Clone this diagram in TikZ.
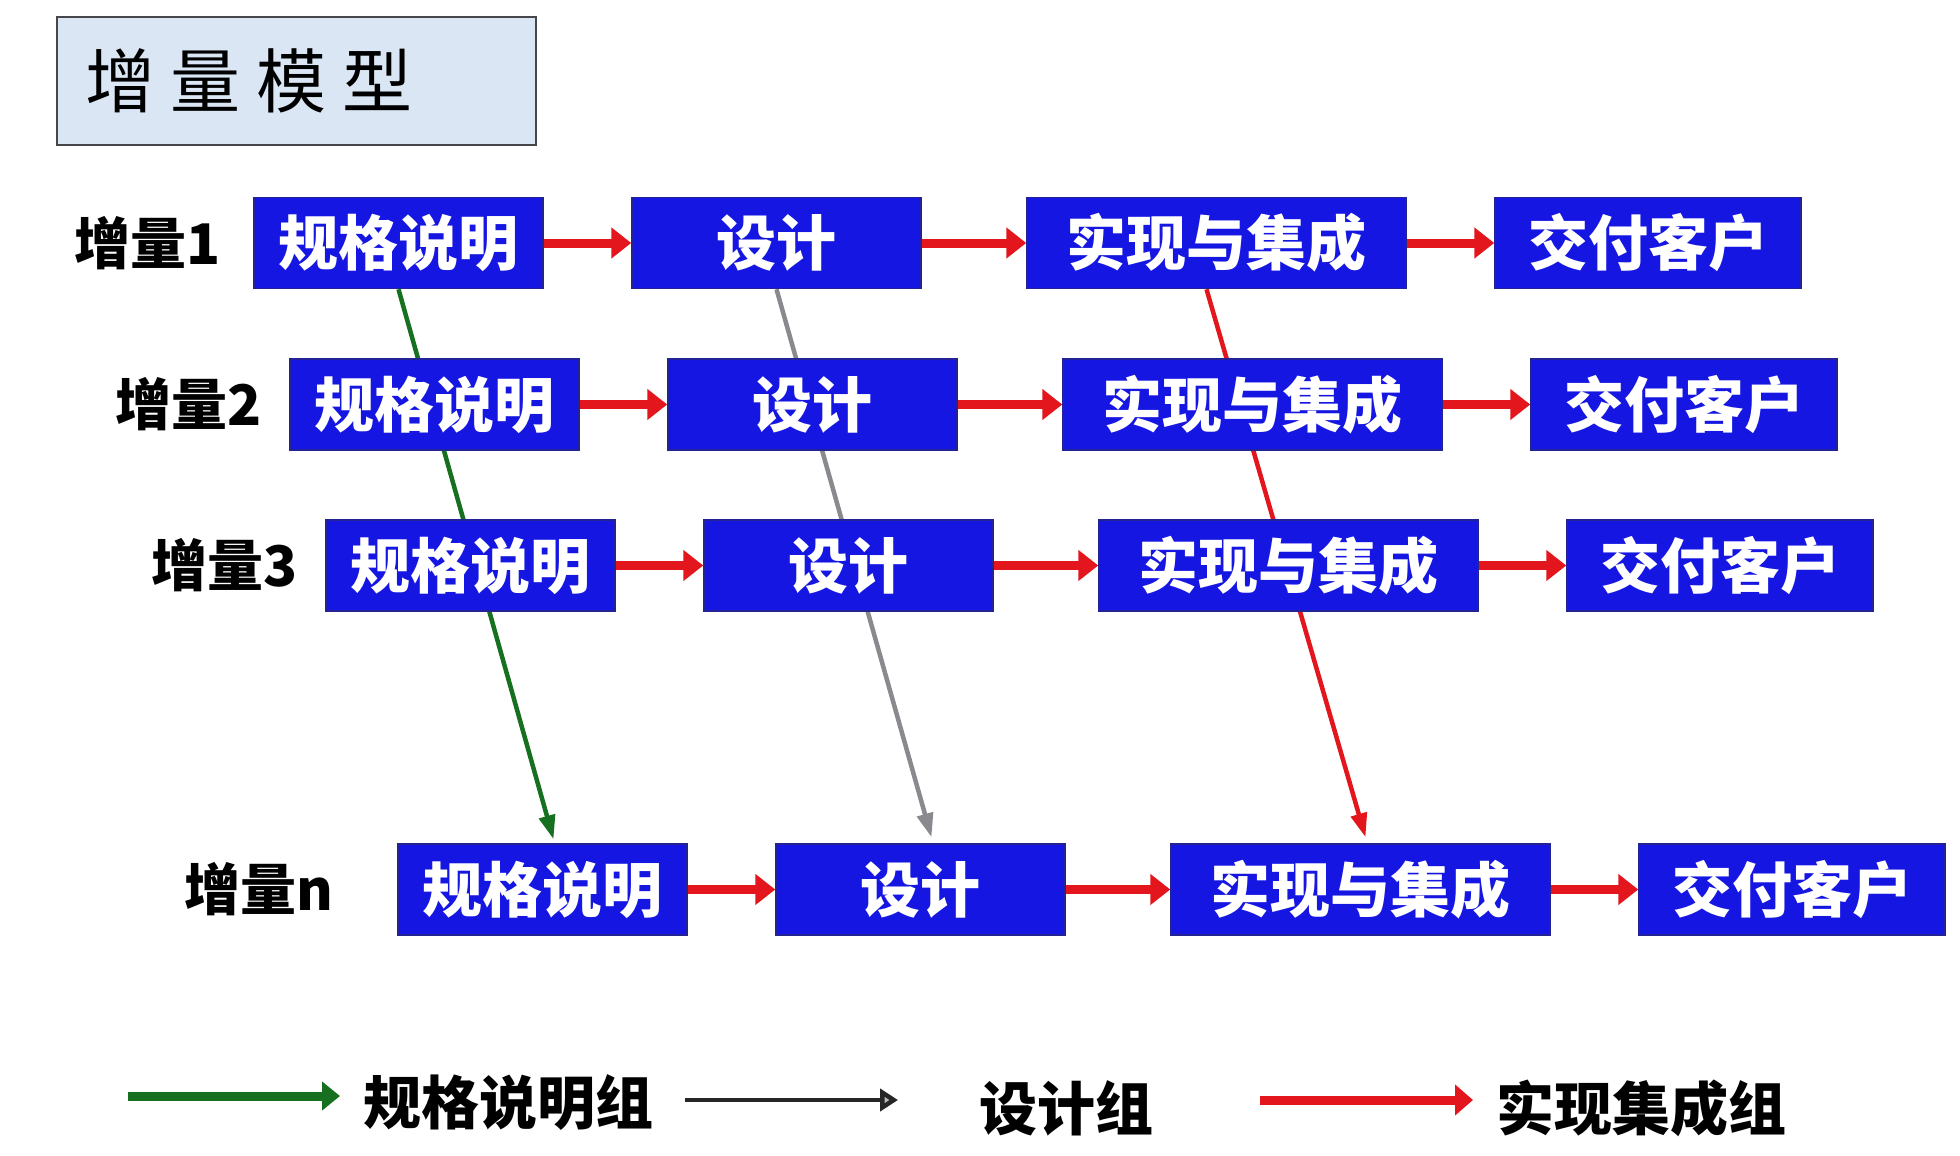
\documentclass[tikz,border=0pt]{standalone}
\usepackage{fontspec}
\newfontfamily\cjk{Noto Sans CJK SC}
\usetikzlibrary{arrows.meta,calc}
\pgfdeclarelayer{background}
\pgfsetlayers{background,main}
\definecolor{boxblue}{RGB}{22,22,226}
\definecolor{boxedge}{RGB}{35,35,150}
\definecolor{arrred}{RGB}{226,22,28}
\definecolor{arrgreen}{RGB}{22,112,32}
\definecolor{arrgray}{RGB}{138,138,142}
\definecolor{titlefill}{RGB}{218,230,244}
\definecolor{titleedge}{RGB}{70,70,75}
\tikzset{
  stagebox/.style={draw=boxedge, line width=1.5pt, fill=boxblue, text=white, inner sep=0pt,
    minimum height=91pt, font=\cjk\bfseries\fontsize{60}{60}\selectfont},
  wspec/.style={stagebox, minimum width=289pt},
  wdes/.style={stagebox, minimum width=289pt},
  wimp/.style={stagebox, minimum width=379pt},
  wdel/.style={stagebox, minimum width=306pt},
  rowlabel/.style={anchor=east, inner sep=0pt, font=\cjk\bfseries\fontsize{56}{56}\selectfont},
  flow/.style={arrred, line width=9pt, -{Triangle[length=20pt,width=30pt]}},
  diag/.style={line width=4.5pt, -{Triangle[length=24pt,width=16pt]}},
  legtext/.style={inner sep=0pt, font=\cjk\bfseries\fontsize{58}{58}\selectfont},
}
\begin{document}
\begin{tikzpicture}[x=1pt,y=-1pt]
\useasboundingbox (0,0) rectangle (1960,1156);

% title
\node[draw=titleedge, line width=2pt, fill=titlefill, minimum height=128pt,
      text width=423pt, inner xsep=28pt, inner ysep=0pt, align=left,
      font=\cjk\fontsize{70}{70}\selectfont] (title) at (296.5,81)
      {增\hspace{16pt}量\hspace{16pt}模\hspace{16pt}型};

% row 1
\node[wspec] (s1) at (398.5,243) {规格说明};
\node[wdes]  (d1) at (776.5,243) {设计};
\node[wimp]  (i1) at (1216.5,243) {实现与集成};
\node[wdel]  (c1) at (1648,243) {交付客户};
\node[rowlabel] (l1) at (221,243) {增量1};
% row 2
\node[wspec] (s2) at (434.5,404.5) {规格说明};
\node[wdes]  (d2) at (812.5,404.5) {设计};
\node[wimp]  (i2) at (1252.5,404.5) {实现与集成};
\node[wdel]  (c2) at (1684,404.5) {交付客户};
\node[rowlabel] (l2) at (262,404.5) {增量2};
% row 3
\node[wspec] (s3) at (470.5,565.5) {规格说明};
\node[wdes]  (d3) at (848.5,565.5) {设计};
\node[wimp]  (i3) at (1288.5,565.5) {实现与集成};
\node[wdel]  (c3) at (1720,565.5) {交付客户};
\node[rowlabel] (l3) at (297.5,565.5) {增量3};
% row n
\node[wspec] (sn) at (542.5,889.5) {规格说明};
\node[wdes]  (dn) at (920.5,889.5) {设计};
\node[wimp]  (in) at (1360.5,889.5) {实现与集成};
\node[wdel]  (cn) at (1792,889.5) {交付客户};
\node[rowlabel] (ln) at (334,889.5) {增量n};

% horizontal flows
\foreach \r in {1,2,3,n}{
  \draw[flow] (s\r.east) -- (d\r.west);
  \draw[flow] (d\r.east) -- (i\r.west);
  \draw[flow] (i\r.east) -- (c\r.west);
}

% diagonal team arrows (behind boxes)
\begin{pgfonlayer}{background}
\draw[diag, arrgreen] (s1.south) -- ([xshift=11pt,yshift=4pt]sn.north);
\draw[diag, arrgray]  (d1.south) -- ([xshift=11pt,yshift=6pt]dn.north);
\draw[diag, arrred]   ([xshift=-10pt]i1.south) -- ([xshift=5pt,yshift=6pt]in.north);
\end{pgfonlayer}

% legend
\coordinate (lg1a) at (128,1096);
\coordinate (lg1b) at (340,1096);
\node[legtext] (lt1) at (508,1103) {规格说明组};
\coordinate (lg2a) at (685,1100);
\coordinate (lg2b) at (898,1100);
\node[legtext] (lt2) at (1066,1108) {设计组};
\coordinate (lg3a) at (1260,1100);
\coordinate (lg3b) at (1473,1100);
\node[legtext] (lt3) at (1641,1108) {实现集成组};
\draw[arrgreen, line width=9pt, -{Triangle[length=18pt,width=28pt]}] (lg1a) -- (lg1b);
\draw[black!85, line width=4.5pt, -{Triangle[length=18pt,width=22pt,fill=gray!55]}] (lg2a) -- (lg2b);
\draw[arrred, line width=9pt, -{Triangle[length=18pt,width=30pt]}] (lg3a) -- (lg3b);
\end{tikzpicture}
\end{document}
